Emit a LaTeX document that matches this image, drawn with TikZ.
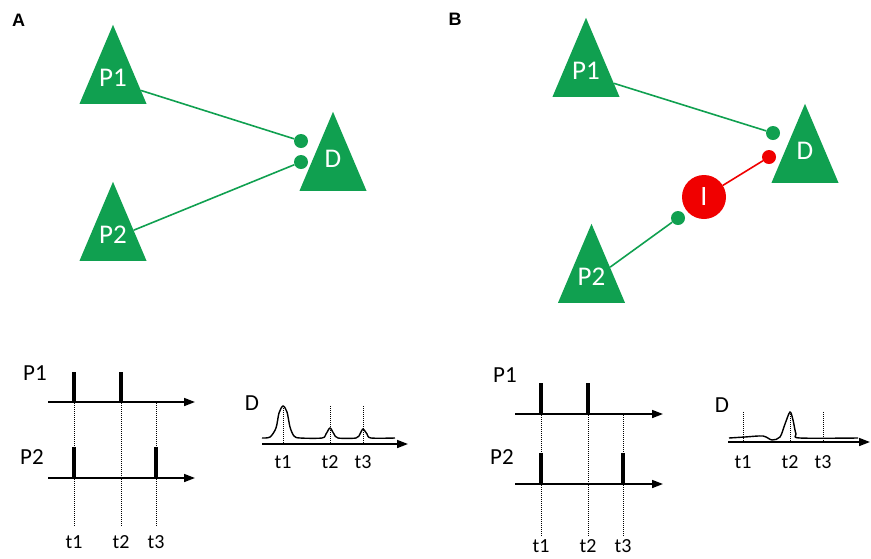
\documentclass[tikz,border=0pt]{standalone}
\usepackage{fontspec}
\setmainfont{Carlito}
\newfontfamily\headfont{Liberation Sans}
\usepackage{tikz}
\usetikzlibrary{shapes.geometric, arrows.meta, positioning, calc}
\definecolor{cellgreen}{RGB}{16,160,80}
\definecolor{inhibred}{RGB}{240,0,0}

\begin{document}
\begin{tikzpicture}[
        x=1pt, y=-1pt,
        cell/.style={
            isosceles triangle, isosceles triangle stretches,
            shape border rotate=90, minimum width=67pt, minimum height=79pt,
            inner sep=0pt, fill=cellgreen, anchor=lower side,
        },
        celltext/.style={text=white, font=\fontsize{27}{27}\selectfont},
        syn/.style={circle, fill=#1, inner sep=0pt, minimum size=14pt},
        wire/.style={draw=#1, line width=1.6pt},
        panel/.style={font=\headfont\bfseries\fontsize{18}{18}\selectfont},
        axis/.style={line width=1.6pt, -{Triangle[length=11pt,width=8pt]}},
        spike/.style={line width=3.5pt},
        guide/.style={densely dotted, line width=1pt},
        lab/.style={font=\fontsize{23}{23}\selectfont},
        tick/.style={font=\fontsize{20}{20}\selectfont},
    ]
    \useasboundingbox (0,0) rectangle (871,558);

    % panel A: two excitatory inputs
    \node[panel] (headA) at (18.5,20.5) {A};
    \node[cell] (P1a) at (113,104) {};
    \node[cell] (P2a) at (113,261) {};
    \node[cell] (Da) at (333,191) {};
    \node[celltext] (P1aname) at ($(P1a.apex)!0.67!(P1a.lower side)$) {P1};
    \node[celltext] (P2aname) at ($(P2a.apex)!0.67!(P2a.lower side)$) {P2};
    \node[celltext] (Daname) at ($(Da.apex)!0.6!(Da.lower side)$) {D};
    \node[syn=cellgreen] (s1a) at (301,141) {};
    \node[syn=cellgreen] (s2a) at (301,162) {};
    \draw[wire=cellgreen] (P1a) -- (s1a);
    \draw[wire=cellgreen] (P2a) -- (s2a);

    % panel B: P2 through the inhibitory cell I
    \node[panel] (headB) at (455,19) {B};
    \node[cell] (P1b) at (586,97) {};
    \node[cell] (Db) at (805,183) {};
    \node[cell] (P2b) at (591.5,303) {};
    \node[celltext] (P1bname) at ($(P1b.apex)!0.67!(P1b.lower side)$) {P1};
    \node[celltext] (P2bname) at ($(P2b.apex)!0.67!(P2b.lower side)$) {P2};
    \node[celltext] (Dbname) at ($(Db.apex)!0.6!(Db.lower side)$) {D};
    \node[syn=cellgreen] (s1b) at (773,133) {};
    \node[syn=inhibred] (s3b) at (769,157) {};
    \node[circle, fill=inhibred, minimum size=44pt, inner sep=0pt, text=white,
        font=\fontsize{28}{28}\selectfont] (Ib) at (704,197) {I};
    \node[syn=cellgreen] (s2b) at (678,218) {};
    \draw[wire=cellgreen] (P1b) -- (s1b);
    \draw[wire=inhibred] (Ib) -- (s3b);
    \draw[wire=cellgreen] (P2b) -- (s2b);

    % spike trains A
    \node[lab] (trP1a) at (35,373) {P1};
    \node[lab] (trP2a) at (32,457) {P2};
    \draw[axis] (48,402) -- (195,402);
    \draw[axis] (48,478) -- (195,478);
    \foreach \x in {74,121} \draw[spike] (\x,372) -- (\x,402);
    \foreach \x in {74,156} \draw[spike] (\x,447) -- (\x,478);
    \foreach \x/\t in {74/t1,121/t2,156/t3} {
        \draw[guide] (\x,403) -- (\x,527);
        \node[tick] (a\t) at (\x,542) {\t};
    }
    \node[lab] (outA) at (252,403) {D};
    \draw[axis] (262,444) -- (408,444);
    \draw[line width=1.4pt] plot[smooth, tension=0.5] coordinates {
        (262,438) (270,437) (276,428) (279,413) (283,406) (287,412) (290,427)
        (294,436) (300,438) (322,438) (326,434) (330,428) (334,434) (338,438)
        (356,438) (360,434) (363,429) (367,434) (371,438) (395,438)};
    \foreach \x/\t in {283/t1,330/t2,363/t3} {
        \draw[guide] (\x,406) -- (\x,444);
        \node[tick] (da\t) at (\x,462) {\t};
    }

    % spike trains B
    \node[lab] (trP1b) at (505,375) {P1};
    \node[lab] (trP2b) at (502,457) {P2};
    \draw[axis] (515,414) -- (663,414);
    \draw[axis] (515,484) -- (663,484);
    \foreach \x in {541,588} \draw[spike] (\x,383) -- (\x,414);
    \foreach \x in {541,623} \draw[spike] (\x,453) -- (\x,484);
    \foreach \x/\t in {541/t1,588/t2,623/t3} {
        \draw[guide] (\x,415) -- (\x,536);
        \node[tick] (b\t) at (\x,546) {\t};
    }
    \node[lab] (outB) at (722,405) {D};
    \draw[axis] (728,442) -- (870,442);
    \draw[line width=1.4pt] plot[smooth, tension=0.5] coordinates {
        (729,438) (745,437) (763,436) (772,440) (780,437) (785,424) (790,412)
        (793,420) (796,434) (800,438) (858,438)};
    \foreach \x/\t in {743/t1,790/t2,823/t3} {
        \draw[guide] (\x,412) -- (\x,442);
        \node[tick] (db\t) at (\x,462) {\t};
    }
\end{tikzpicture}
\end{document}
